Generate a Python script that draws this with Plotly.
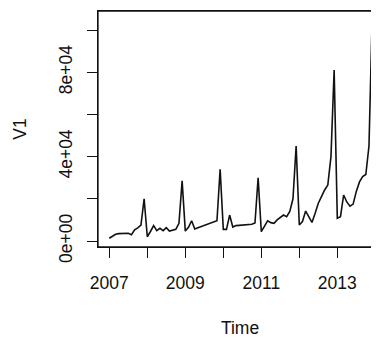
import plotly.graph_objects as go

# Monthly series, Jan 2007 .. Dec 2013
start_year = 2007
values = [
    # 2007
    1300, 2200, 3200, 3500, 3600, 3600, 3700, 3000, 5300, 6200, 7500, 20000,
    # 2008
    2000, 4500, 7300, 4900, 6000, 4900, 6300, 4700, 5000, 5500, 8400, 28500,
    # 2009
    4700, 6500, 9600, 5700, 6250, 6800, 7350, 7900, 8450, 9000, 9600, 34000,
    # 2010
    5500, 5500, 12300, 6600, 7300, 7400, 7500, 7600, 7700, 7900, 8500, 30000,
    # 2011
    4400, 6800, 9600, 8700, 8400, 10000, 11000, 12300, 11500, 14000, 20000, 45000,
    # 2012
    7600, 9200, 14200, 11500, 8800, 13100, 17900, 21000, 24200, 26500, 40000, 81000,
    # 2013
    10800, 11500, 21800, 18500, 16500, 17500, 23500, 28000, 30500, 31500, 45000, 105500,
]
times = [start_year + i / 12 for i in range(len(values))]

x_tick_vals = [2007, 2008, 2009, 2010, 2011, 2012, 2013, 2014]
x_tick_text = ["2007", "", "2009", "", "2011", "", "2013", ""]
y_tick_vals = [0, 20000, 40000, 60000, 80000, 100000]
y_tick_text = ["0e+00", "", "4e+04", "", "8e+04", ""]

font_family = "Liberation Sans, Arial, sans-serif"
ink = "#111111"

fig = go.Figure()
fig.add_trace(go.Scatter(x=times, y=values, mode="lines",
                         line=dict(color=ink, width=1.6),
                         hoverinfo="skip", showlegend=False))

box_line = dict(color=ink, width=1.3)
fig.update_layout(
    template="none",
    width=374, height=330,
    margin=dict(l=90, r=0, t=3, b=91, autoexpand=False),
    paper_bgcolor="white", plot_bgcolor="rgba(0,0,0,0)",
    font=dict(family=font_family, size=17.5, color=ink),
    xaxis=dict(
        automargin=False,
        range=[2006.703, 2014.176],
        tickmode="array", tickvals=x_tick_vals, ticktext=x_tick_text,
        ticks="outside", ticklen=10, tickwidth=1.3, tickcolor=ink,
        showgrid=False, zeroline=False,
        showline=True, mirror=True, linecolor=ink, linewidth=1.3,
        ticklabelstandoff=10,
        title=dict(text="Time", standoff=30, font=dict(size=17.5)),
    ),
    yaxis=dict(
        automargin=False,
        range=[-2844, 109005],
        tickmode="array", tickvals=y_tick_vals, ticktext=y_tick_text,
        tickangle=-90,
        ticks="outside", ticklen=10, tickwidth=1.3, tickcolor=ink,
        showgrid=False, zeroline=False,
        showline=True, mirror=False, linecolor=ink, linewidth=1.3,
        ticklabelstandoff=8,
        title=dict(text="V1", standoff=24, font=dict(size=17.5)),
    ),
    shapes=[
        dict(type="line", xref="paper", yref="paper", x0=0, x1=0, y0=0, y1=1,
             line=box_line, layer="below"),
        dict(type="line", xref="paper", yref="paper", x0=0, x1=1, y0=1, y1=1,
             line=box_line, layer="below"),
        dict(type="line", xref="paper", yref="paper", x0=0, x1=1, y0=0, y1=0,
             line=box_line, layer="below"),
    ],
)

fig.write_html("out.html")
